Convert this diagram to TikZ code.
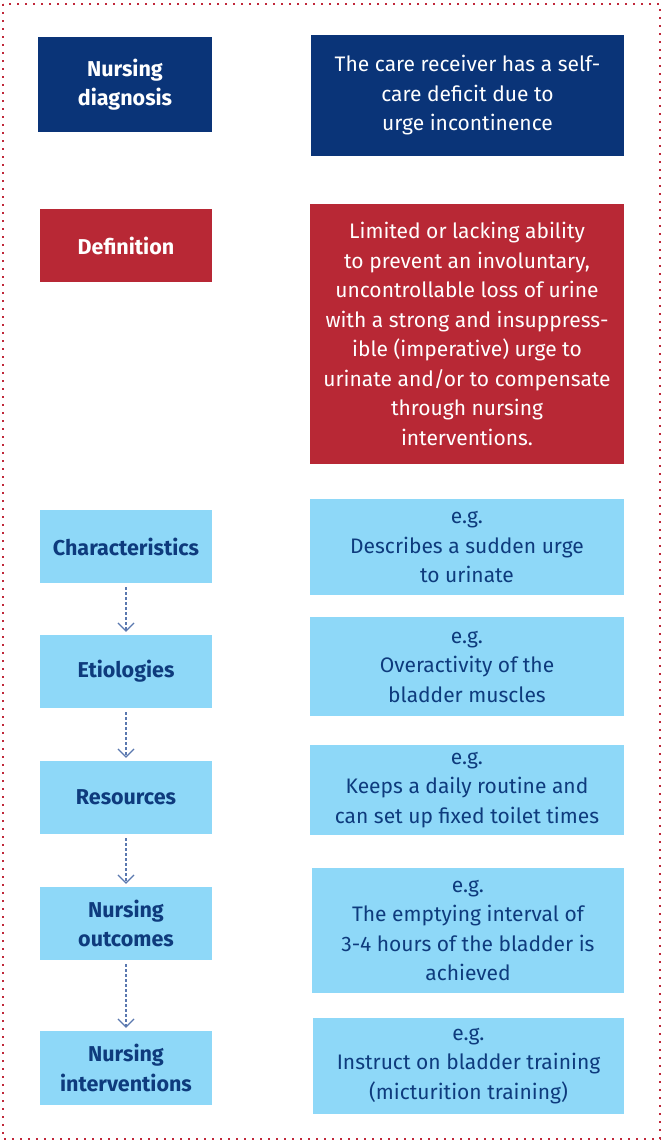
\documentclass[tikz,border=0pt]{standalone}
\usepackage{fontspec}
\setmainfont{Fira Sans}
\definecolor{diagblue}{RGB}{10, 52, 120}
\definecolor{defred}{RGB}{184, 40, 53}
\definecolor{stepsky}{RGB}{142, 216, 248}
\definecolor{stepink}{RGB}{14, 59, 125}
\definecolor{framered}{RGB}{192, 40, 58}
\definecolor{arrowgrey}{RGB}{90, 120, 175}
\usetikzlibrary{
    arrows.meta,
    positioning
}
\tikzstyle{plainbox} = [
    align=center,
    inner sep=0pt,
    font=\fontsize{21}{29.5}\selectfont
]
\tikzstyle{diagbox} = [plainbox, fill=diagblue, text=white]
\tikzstyle{defbox} = [plainbox, fill=defred, text=white]
\tikzstyle{skybox} = [plainbox, fill=stepsky, text=stepink]
\tikzstyle{headbox} = [minimum width=172pt, minimum height=73pt, font=\fontsize{21.5}{29.5}\selectfont\bfseries]
\tikzstyle{flowarrow} = [
    -{Straight Barb[length=8pt, width=16pt]},
    arrowgrey,
    line width=1.2pt,
    dash pattern=on 3pt off 2pt
]

\begin{document}
\begin{tikzpicture}[x=1pt, y=-1pt]
        \useasboundingbox (0,0) rectangle (662,1141);

        % Dotted frame
        \draw[framered, line width=2pt, dash pattern=on 2pt off 6pt]
            (3,4) rectangle (660,1139);

        % Diagnosis row
        \node[diagbox, headbox, minimum width=174pt, minimum height=95pt] (diag) at (125,84.5) {Nursing\\diagnosis};
        \node[diagbox, minimum width=313pt, minimum height=121pt] (diagtxt) at (467.5,95.5)
            {The care receiver has a self-\\care deficit due to\\urge incontinence};

        % Definition row
        \node[defbox, headbox] (def) at (126,245.5) {Definition};
        \node[defbox, minimum width=314pt, minimum height=260pt] (deftxt) at (467,334)
            {Limited or lacking ability\\to prevent an involuntary,\\uncontrollable loss of urine\\with a strong and insuppress-\\ible (imperative) urge to\\urinate and/or to compensate\\through nursing\\interventions.};

        % Steps
        \node[skybox, headbox] (char) at (126,546.5) {Characteristics};
        \node[skybox, minimum width=314pt, minimum height=96pt] (chartxt) at (467,547)
            {e.g.\\Describes a sudden urge\\to urinate};

        \node[skybox, headbox] (etio) at (126,671.5) {Etiologies};
        \node[skybox, minimum width=314pt, minimum height=99pt] (etiotxt) at (467,666.5)
            {e.g.\\Overactivity of the\\bladder muscles};

        \node[skybox, headbox] (res) at (126,797.5) {Resources};
        \node[skybox, minimum width=314pt, minimum height=90pt] (restxt) at (467,790)
            {e.g.\\Keeps a daily routine and\\can set up fixed toilet times};

        \node[skybox, headbox] (outc) at (126,923.5) {Nursing\\outcomes};
        \node[skybox, minimum width=312pt, minimum height=125pt] (outctxt) at (468,930.5)
            {e.g.\\The emptying interval of\\3-4 hours of the bladder is\\achieved};

        \node[skybox, headbox, minimum height=74pt] (intv) at (126,1068) {Nursing\\interventions};
        \node[skybox, minimum width=311pt, minimum height=96pt] (intvtxt) at (468.5,1066)
            {e.g.\\Instruct on bladder training\\(micturition training)};

        % Dotted arrows
        \draw[flowarrow] ([yshift=-4pt]char.south) -- ([yshift=3pt]etio.north);
        \draw[flowarrow] ([yshift=-4pt]etio.south) -- ([yshift=3pt]res.north);
        \draw[flowarrow] ([yshift=-4pt]res.south) -- ([yshift=3pt]outc.north);
        \draw[flowarrow] ([yshift=-4pt]outc.south) -- ([yshift=3pt]intv.north);
    \end{tikzpicture}
\end{document}
